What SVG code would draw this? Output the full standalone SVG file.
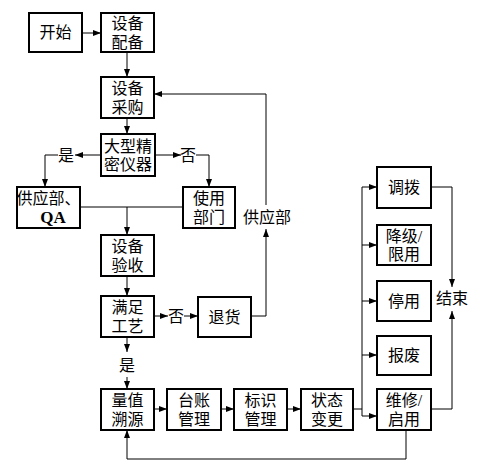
<svg xmlns="http://www.w3.org/2000/svg" width="488" height="473" viewBox="0 0 488 473">
<defs>
<marker id="ah" markerWidth="8" markerHeight="6" refX="8" refY="3" orient="auto" markerUnits="userSpaceOnUse">
<path d="M0,0 L8,3 L0,6 Z" fill="#000"/>
</marker>
<style>
.box{fill:#fff;stroke:#000;stroke-width:2}
.t{font-family:"Liberation Serif","Noto Sans CJK SC",serif;font-size:16px;fill:#000;text-anchor:middle;dominant-baseline:central}
.qa{font-weight:bold;font-size:17px}
.c{fill:none;stroke:#000;stroke-width:1}
.a{marker-end:url(#ah)}
</style>
</defs>
<rect width="488" height="473" fill="#fff"/>
<g id="connectors">
<path class="c a" d="M82,33 H101"/>
<path class="c a" d="M127,52 V77"/>
<path class="c a" d="M127,118 V134"/>
<path class="c a" d="M101,155 H75"/>
<path class="c a" d="M58,155 H45 V187"/>
<path class="c a" d="M155,155 H181"/>
<path class="c a" d="M196,155 H209 V187"/>
<path class="c" d="M80,207 H183"/>
<path class="c a" d="M127,207 V235"/>
<path class="c a" d="M127,276 V296"/>
<path class="c a" d="M154,316 H168"/>
<path class="c a" d="M184,316 H198"/>
<path class="c a" d="M251,316 H266 V229"/>
<path class="c a" d="M266,205 V94 H154"/>
<path class="c a" d="M127,337 V352"/>
<path class="c a" d="M127,377 V389"/>
<path class="c a" d="M154,409 H167"/>
<path class="c a" d="M221,409 H234"/>
<path class="c a" d="M287,409 H301"/>
<path class="c" d="M353,409 H362"/>
<path class="c" d="M362,187 V416"/>
<path class="c a" d="M362,187 H377"/>
<path class="c a" d="M362,245 H377"/>
<path class="c a" d="M362,301 H377"/>
<path class="c a" d="M362,355 H377"/>
<path class="c a" d="M362,416 H377"/>
<path class="c a" d="M431,187 H452 V287"/>
<path class="c a" d="M431,409 H452 V311"/>
<path class="c a" d="M406,430 V459 H127 V430"/>
</g>
<g id="labels">
<text class="t" x="66" y="155">是</text>
<text class="t" x="188" y="155">否</text>
<text class="t" x="267" y="217">供应部</text>
<text class="t" x="176" y="316">否</text>
<text class="t" x="127" y="365">是</text>
<text class="t" x="452" y="298">结束</text>
</g>
<g id="n_start"><rect class="box" x="29" y="13" width="53" height="39"/><text class="t" x="55.5" y="32.5">开始</text></g>
<g id="n_peibei"><rect class="box" x="101" y="13" width="53" height="39"/><text class="t" x="127.5" y="23.5">设备<tspan x="127.5" dy="18">配备</tspan></text></g>
<g id="n_caigou"><rect class="box" x="101" y="77" width="53" height="41"/><text class="t" x="127.5" y="88.5">设备<tspan x="127.5" dy="18">采购</tspan></text></g>
<g id="n_dayi"><rect class="box" x="101" y="134" width="54" height="42"/><text class="t" x="128" y="146">大型精<tspan x="128" dy="18">密仪器</tspan></text></g>
<g id="n_gongying"><rect class="box" x="17" y="187" width="63" height="41"/><text class="t" x="48.5" y="198.5">供应部、<tspan class="qa" x="53" dy="18">QA</tspan></text></g>
<g id="n_shiyong"><rect class="box" x="183" y="187" width="52" height="41"/><text class="t" x="209" y="198.5">使用<tspan x="209" dy="18">部门</tspan></text></g>
<g id="n_yanshou"><rect class="box" x="101" y="235" width="53" height="41"/><text class="t" x="127.5" y="246.5">设备<tspan x="127.5" dy="18">验收</tspan></text></g>
<g id="n_manzu"><rect class="box" x="101" y="296" width="53" height="41"/><text class="t" x="127.5" y="307.5">满足<tspan x="127.5" dy="18">工艺</tspan></text></g>
<g id="n_tuihuo"><rect class="box" x="198" y="297" width="53" height="40"/><text class="t" x="224.5" y="317">退货</text></g>
<g id="n_liangzhi"><rect class="box" x="101" y="389" width="53" height="41"/><text class="t" x="127.5" y="400.5">量值<tspan x="127.5" dy="18">溯源</tspan></text></g>
<g id="n_taizhang"><rect class="box" x="167" y="389" width="54" height="41"/><text class="t" x="194" y="400.5">台账<tspan x="194" dy="18">管理</tspan></text></g>
<g id="n_biaoshi"><rect class="box" x="234" y="389" width="53" height="41"/><text class="t" x="260.5" y="400.5">标识<tspan x="260.5" dy="18">管理</tspan></text></g>
<g id="n_zhuangtai"><rect class="box" x="301" y="389" width="52" height="41"/><text class="t" x="327" y="400.5">状态<tspan x="327" dy="18">变更</tspan></text></g>
<g id="n_tiaobo"><rect class="box" x="377" y="167" width="54" height="41"/><text class="t" x="404" y="187.5">调拨</text></g>
<g id="n_jiangji"><rect class="box" x="377" y="225" width="54" height="40"/><text class="t" x="404" y="236">降级/<tspan x="404" dy="18">限用</tspan></text></g>
<g id="n_tingyong"><rect class="box" x="377" y="281" width="54" height="40"/><text class="t" x="404" y="301">停用</text></g>
<g id="n_baofei"><rect class="box" x="377" y="336" width="54" height="39"/><text class="t" x="404" y="355.5">报废</text></g>
<g id="n_weixiu"><rect class="box" x="377" y="389" width="54" height="41"/><text class="t" x="404" y="400.5">维修/<tspan x="404" dy="18">启用</tspan></text></g>
</svg>
